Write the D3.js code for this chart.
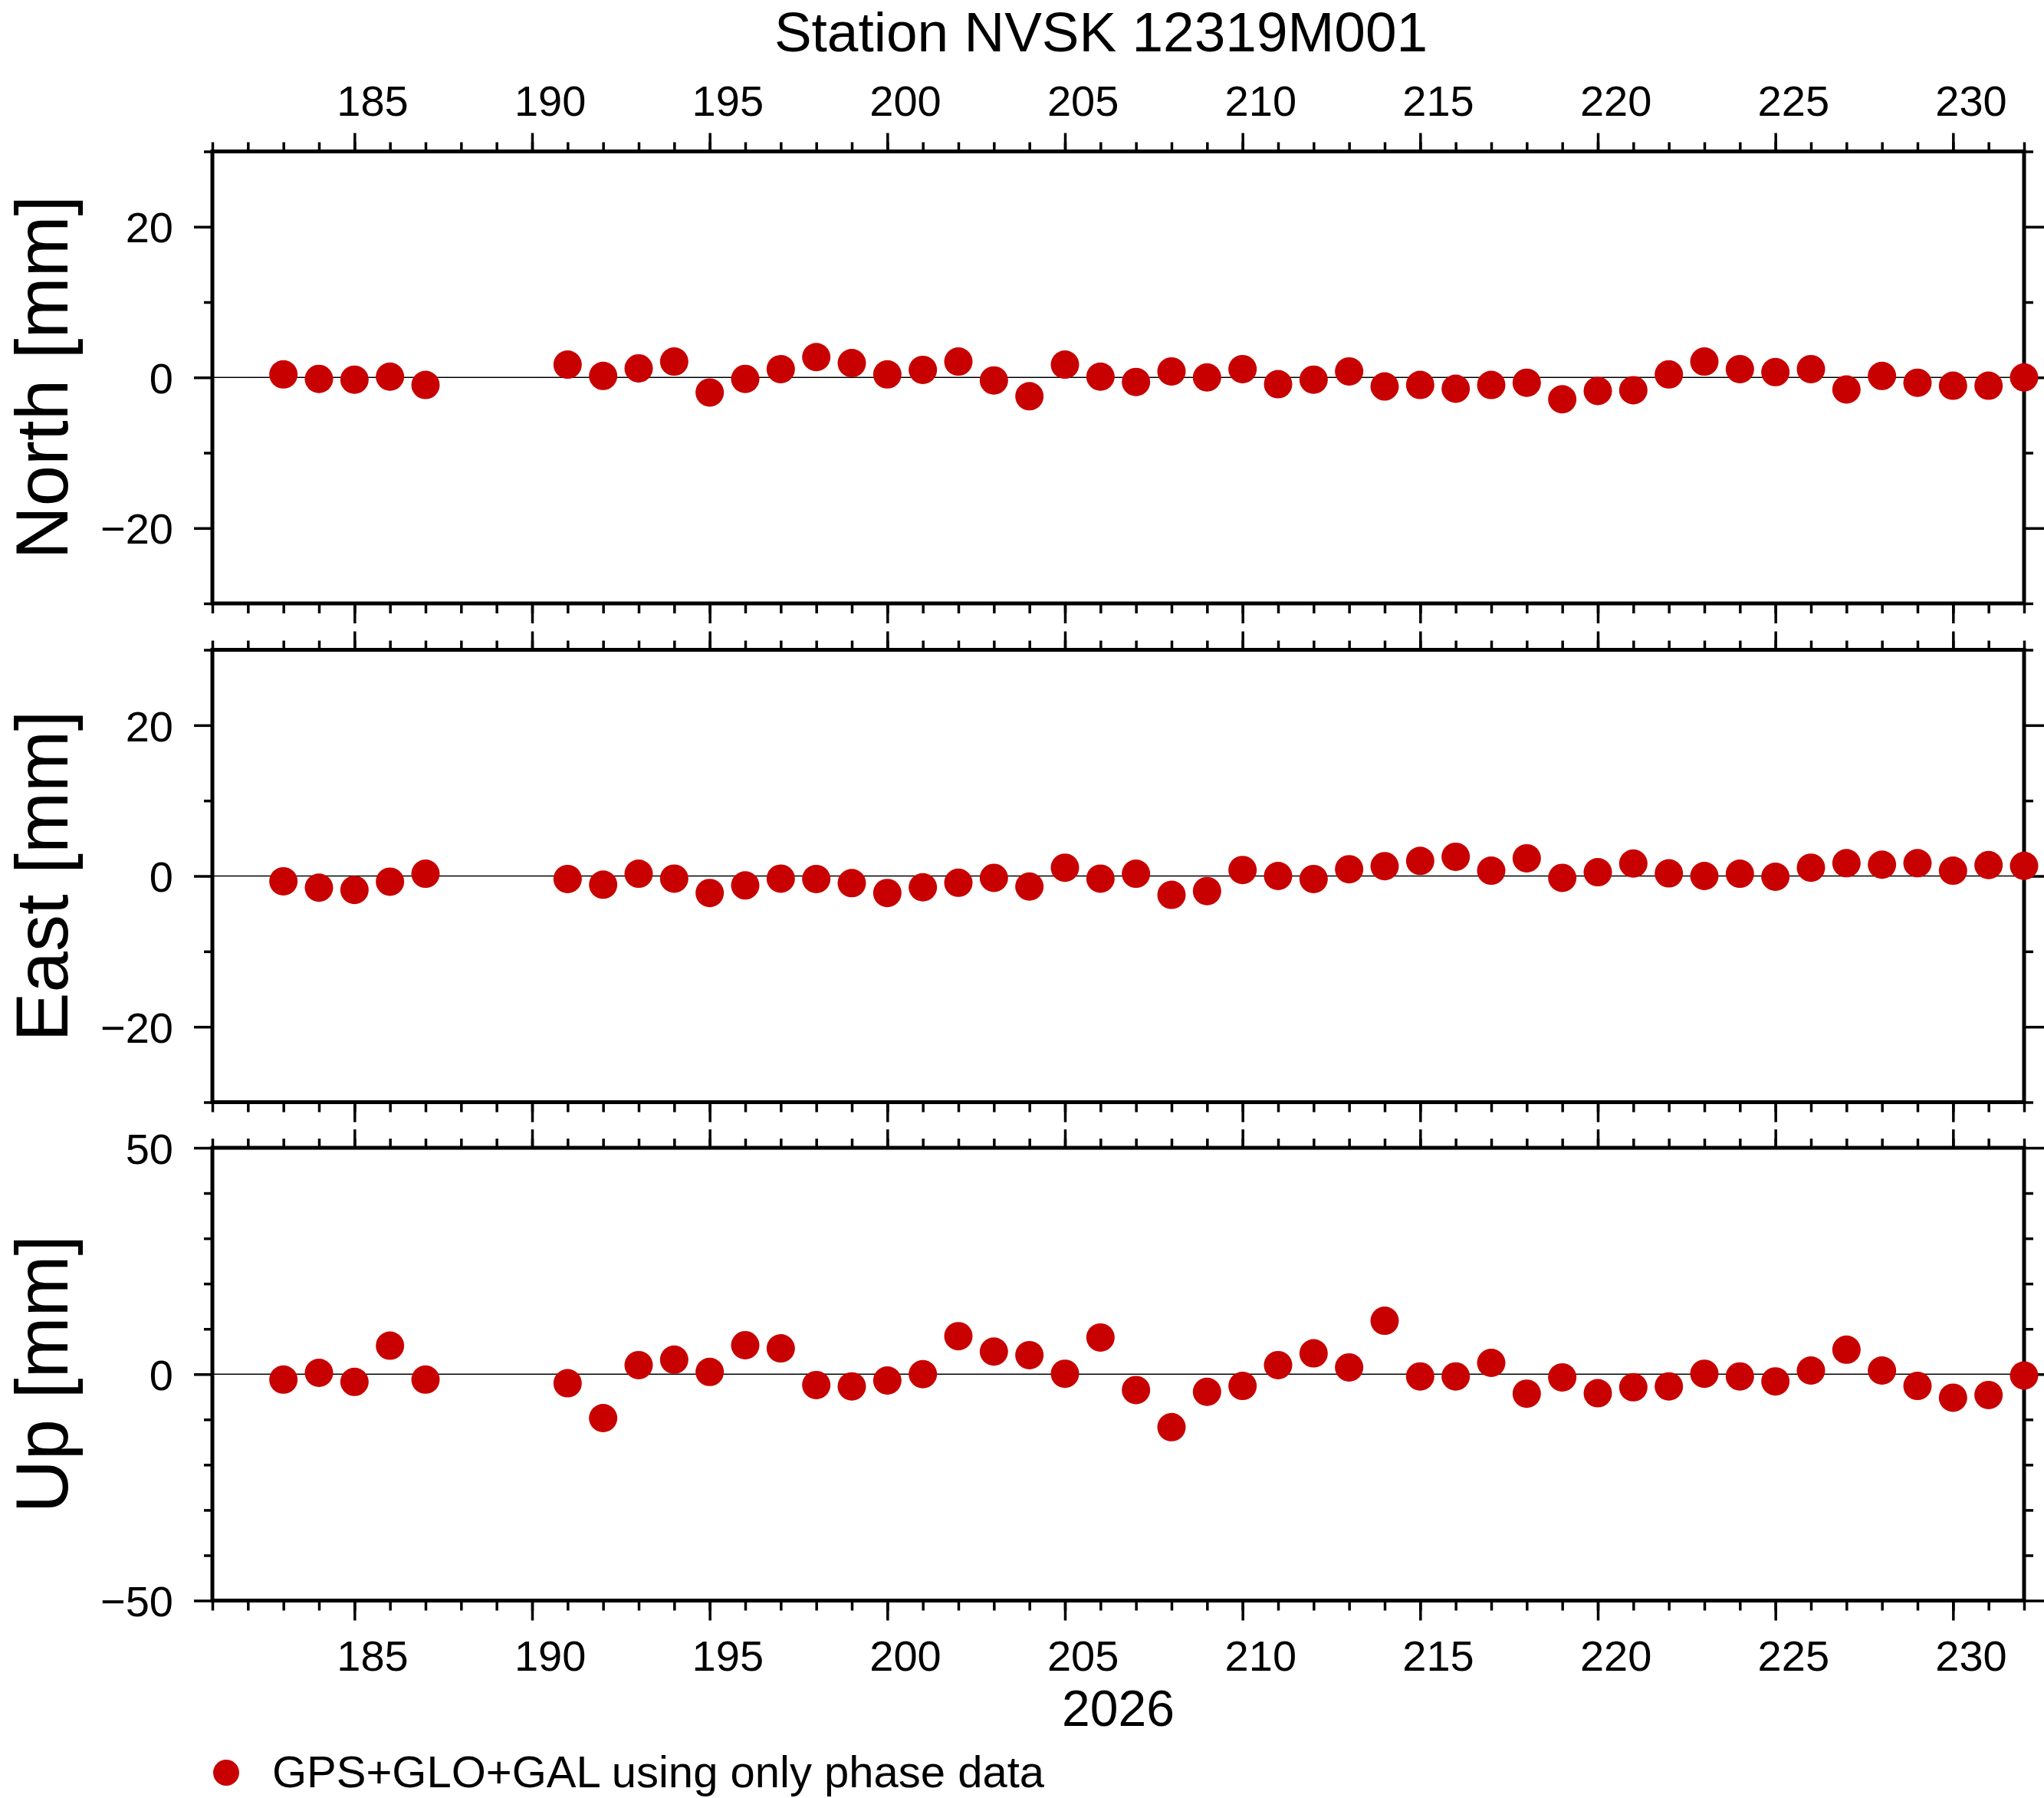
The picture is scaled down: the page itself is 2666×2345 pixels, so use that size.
<!DOCTYPE html>
<html>
<head>
<meta charset="utf-8">
<script src="https://cdn.jsdelivr.net/npm/d3@7"></script>
<style>
  html, body { margin: 0; padding: 0; background: #fff; }
  svg { display: block; }
  text { font-family: "Liberation Sans", Arial, Helvetica, sans-serif; fill: #000; }
</style>
</head>
<body>
<svg id="chart" width="2666" height="2345"></svg>
<script>
// ---- data (day of year 2026, residuals in mm) ----
const days = [183,184,185,186,187,191,192,193,194,195,196,197,198,199,200,201,202,203,204,205,206,207,208,209,210,211,212,213,214,215,216,217,218,219,220,221,222,223,224,225,226,227,228,229,230,231,232];
const north = [0.4,-0.2,-0.3,0.1,-1.0,1.7,0.2,1.2,2.1,-2.0,-0.2,1.1,2.7,1.9,0.4,1.0,2.1,-0.4,-2.5,1.7,0.1,-0.6,0.8,0.0,1.1,-0.9,-0.3,0.8,-1.2,-1.0,-1.5,-1.0,-0.7,-2.9,-1.8,-1.7,0.4,2.1,1.1,0.7,1.1,-1.6,0.2,-0.7,-1.1,-1.1,0.0];
const east = [-0.7,-1.55,-1.85,-0.75,0.3,-0.4,-1.15,0.3,-0.35,-2.25,-1.25,-0.35,-0.4,-0.95,-2.25,-1.5,-0.9,-0.25,-1.4,1.1,-0.35,0.3,-2.5,-2.0,0.8,0.0,-0.4,0.9,1.3,2.0,2.55,0.7,2.35,-0.25,0.5,1.65,0.35,0.0,0.3,-0.1,1.1,1.7,1.5,1.7,0.7,1.45,1.35];
const up = [-1.2,0.3,-1.7,6.3,-1.2,-2.0,-9.7,2.0,3.2,0.5,6.4,5.7,-2.4,-2.7,-1.4,0.0,8.4,5.0,4.2,0.1,8.1,-3.5,-11.7,-3.9,-2.6,2.0,4.6,1.5,11.8,-0.5,-0.5,2.5,-4.3,-0.7,-4.2,-2.9,-2.7,0.1,-0.5,-1.6,0.8,5.4,0.8,-2.6,-5.2,-4.6,-0.3];

const xDomain = [181, 232];
const xMajorTicks = [185,190,195,200,205,210,215,220,225,230];
const xMinorTicks = d3.range(181, 233);
const neYDomain = [-30, 30];
const neMajorTicks = [-20, 0, 20];
const neMinorTicks = [-30, -10, 10, 30];
const upYDomain = [-50, 50];
const upMajorTicks = [-50, 0, 50];
const upMinorTicks = [-40, -30, -20, -10, 10, 20, 30, 40];

const titleText = "Station NVSK 12319M001";
const yearLabel = "2026";
const legendLabel = "GPS+GLO+GAL using only phase data";
const panelLabels = ["North [mm]", "East [mm]", "Up [mm]"];

// ---- layout ----
const svg = d3.select("#chart");
const L = 277, R = 2640;
const dotColor = "#c80000";
const panels = [
  { label: panelLabels[0], top: 197.5, bottom: 787, domain: neYDomain, major: neMajorTicks, minor: neMinorTicks, values: north },
  { label: panelLabels[1], top: 847.5, bottom: 1437.5, domain: neYDomain, major: neMajorTicks, minor: neMinorTicks, values: east },
  { label: panelLabels[2], top: 1497, bottom: 2087.5, domain: upYDomain, major: upMajorTicks, minor: upMinorTicks, values: up }
];

const x = d3.scaleLinear().domain(xDomain).range([L, R]);

function styleAxis(g) {
  g.select(".domain").remove();
  g.selectAll(".tick line").attr("stroke", "#000").attr("stroke-width", 3.5);
  g.selectAll(".tick text").attr("font-family", '"Liberation Sans", Arial, Helvetica, sans-serif').attr("font-size", 56).attr("fill", "#000");
}

panels.forEach((p, i) => {
  const y = d3.scaleLinear().domain(p.domain).range([p.bottom, p.top]);
  const g = svg.append("g");

  // zero line
  g.append("line")
    .attr("x1", L).attr("x2", R)
    .attr("y1", y(0)).attr("y2", y(0))
    .attr("stroke", "#000").attr("stroke-width", 1.3);

  // x ticks top & bottom
  g.append("g").attr("transform", `translate(0,${p.top})`)
    .call(d3.axisTop(x).tickValues(xMinorTicks).tickSize(12).tickFormat(""))
    .call(styleAxis);
  g.append("g").attr("transform", `translate(0,${p.top})`)
    .call(d3.axisTop(x).tickValues(xMajorTicks).tickSize(24).tickFormat(""))
    .call(styleAxis);
  g.append("g").attr("transform", `translate(0,${p.bottom})`)
    .call(d3.axisBottom(x).tickValues(xMinorTicks).tickSize(13).tickFormat(""))
    .call(styleAxis);
  g.append("g").attr("transform", `translate(0,${p.bottom})`)
    .call(d3.axisBottom(x).tickValues(xMajorTicks).tickSize(26).tickFormat(""))
    .call(styleAxis);

  // y ticks left (labelled) & right
  g.append("g").attr("transform", `translate(${L},0)`)
    .call(d3.axisLeft(y).tickValues(p.minor).tickSize(11).tickFormat(""))
    .call(styleAxis);
  g.append("g").attr("transform", `translate(${L},0)`)
    .call(d3.axisLeft(y).tickValues(p.major).tickSize(24).tickPadding(27).tickFormat(d3.format("d")))
    .call(styleAxis)
    .call(a => a.selectAll(".tick text").attr("dy", "0.36em"));
  g.append("g").attr("transform", `translate(${R},0)`)
    .call(d3.axisRight(y).tickValues(p.minor).tickSize(12).tickFormat(""))
    .call(styleAxis);
  g.append("g").attr("transform", `translate(${R},0)`)
    .call(d3.axisRight(y).tickValues(p.major).tickSize(26).tickFormat(""))
    .call(styleAxis);

  // frame
  g.append("rect")
    .attr("x", L).attr("y", p.top)
    .attr("width", R - L).attr("height", p.bottom - p.top)
    .attr("fill", "none").attr("stroke", "#000").attr("stroke-width", 5);

  // y label
  g.append("text")
    .attr("transform", `translate(88,${(p.top + p.bottom) / 2}) rotate(-90)`)
    .attr("text-anchor", "middle")
    .attr("font-size", 96)
    .text(p.label);

  // dots
  g.append("g").selectAll("circle")
    .data(days.map((d, k) => ({ d, v: p.values[k] })))
    .join("circle")
    .attr("cx", e => x(e.d))
    .attr("cy", e => y(e.v))
    .attr("r", 18.5)
    .attr("fill", dotColor);

  // day labels (annotating the day interval, so centred at day + 0.5)
  if (i === 0) {
    const ga = svg.append("g").attr("transform", `translate(0,${p.top})`)
      .call(d3.axisTop(x).tickValues(xMajorTicks.map(d => d + 0.5)).tickSize(0).tickPadding(47).tickFormat(d => d - 0.5))
      .call(styleAxis);
    ga.selectAll(".tick text").attr("dy", "0");
  }
  if (i === 2) {
    const gb = svg.append("g").attr("transform", `translate(0,${p.bottom})`)
      .call(d3.axisBottom(x).tickValues(xMajorTicks.map(d => d + 0.5)).tickSize(0).tickPadding(0).tickFormat(d => d - 0.5))
      .call(styleAxis);
    gb.selectAll(".tick text").attr("y", 91.5).attr("dy", "0");
  }
});

// title
svg.append("text")
  .attr("x", 1436).attr("y", 67)
  .attr("text-anchor", "middle")
  .attr("font-size", 73)
  .text(titleText);

// year label
svg.append("text")
  .attr("x", (L + R) / 2).attr("y", 2251)
  .attr("text-anchor", "middle")
  .attr("font-size", 66)
  .text(yearLabel);

// legend
svg.append("circle").attr("cx", 295).attr("cy", 2312).attr("r", 17).attr("fill", dotColor);
svg.append("text")
  .attr("x", 355).attr("y", 2331)
  .attr("font-size", 58)
  .text(legendLabel);
</script>
</body>
</html>
